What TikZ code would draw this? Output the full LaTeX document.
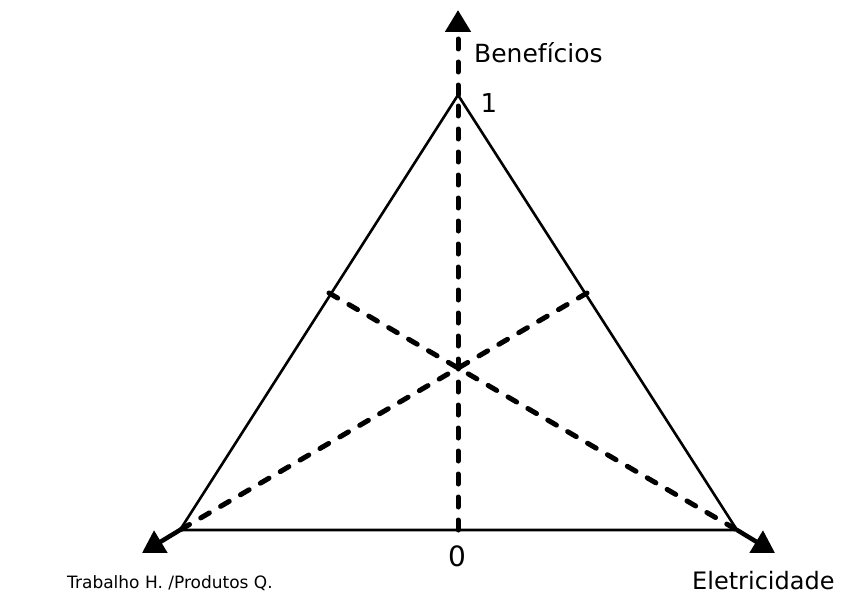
\documentclass[tikz,border=0pt]{standalone}
\usepackage{fontspec}
\setmainfont{DejaVu Sans}
\usetikzlibrary{arrows.meta}
\begin{document}
\begin{tikzpicture}[x=1pt,y=-1pt,
  side/.style={line width=2.6pt},
  dashline/.style={line width=5pt, line cap=round, dash pattern=on 10pt off 13pt},
  axisarrow/.style={-{Triangle[length=22pt,width=25pt]}},
  lbl/.style={inner sep=0pt, anchor=base west}]
\useasboundingbox (0,0) rectangle (848,594);
\coordinate (A) at (458,95);
\coordinate (L) at (180,530);
\coordinate (R) at (737,530);
\coordinate (ML) at (329,293);
\coordinate (MR) at (587,293);
\coordinate (B) at (458,530);
\coordinate (TA) at (458,10);
\coordinate (TL) at (142,553);
\coordinate (TR) at (775,553);
% triangle
\draw[side] (A) -- (L) -- (R) -- cycle;
% dashed medians
\draw[dashline] (B) -- (A);
\draw[dashline, axisarrow] (A) -- (TA);
\draw[dashline] (MR) -- (L);
\draw[dashline] (ML) -- (R);
% bottom axes
\draw[line width=4.5pt, axisarrow] (L) -- (TL);
\draw[line width=4.5pt, axisarrow] (R) -- (TR);
% labels
\node[lbl, font=\fontsize{25}{28}\selectfont] (ben) at (474,63) {Benefícios};
\node[inner sep=0pt, anchor=base, font=\fontsize{26}{30}\selectfont] (one) at (489,112) {1};
\node[inner sep=0pt, anchor=base, font=\fontsize{28}{32}\selectfont] (zero) at (457,566) {0};
\node[lbl, font=\fontsize{17}{19}\selectfont] (trab) at (67,588) {Trabalho H. /Produtos Q.};
\node[lbl, font=\fontsize{24}{28}\selectfont] (ele) at (692,589) {Eletricidade};
\end{tikzpicture}
\end{document}
